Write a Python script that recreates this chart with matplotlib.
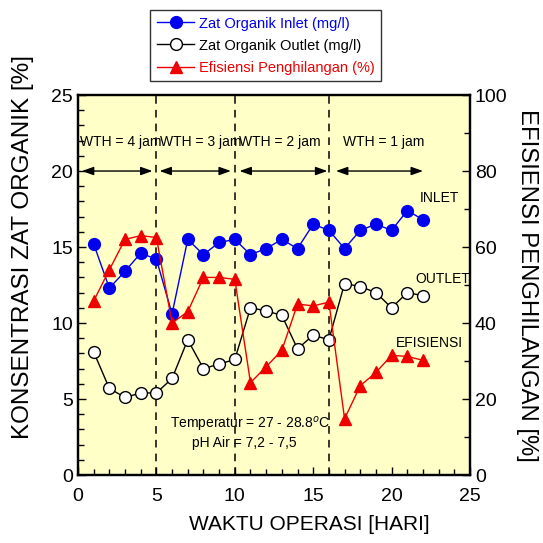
import matplotlib
matplotlib.use("Agg")
import matplotlib.pyplot as plt
from matplotlib.ticker import MultipleLocator

plt.rcParams["font.family"] = ["Liberation Sans", "DejaVu Sans"]

# data
hari = list(range(1, 23))
inlet = [15.2, 12.3, 13.4, 14.6, 14.2, 10.6, 15.5, 14.5, 15.3, 15.5, 14.5,
         14.9, 15.5, 14.9, 16.5, 16.1, 14.9, 16.1, 16.5, 16.1, 17.4, 16.8]
outlet = [8.1, 5.7, 5.1, 5.4, 5.4, 6.35, 8.9, 7.0, 7.3, 7.6, 11.0,
          10.8, 10.5, 8.3, 9.2, 8.9, 12.6, 12.4, 12.0, 11.0, 12.0, 11.8]
efisiensi = [45.8, 54.0, 62.0, 63.0, 62.5, 40.0, 43.0, 52.0, 52.0, 51.5, 24.3,
             28.5, 32.8, 45.0, 44.5, 45.5, 14.8, 23.5, 27.0, 31.5, 31.2, 30.2]

batas = [5, 10, 16]
wth_labels = ["WTH = 4 jam", "WTH = 3 jam", "WTH = 2 jam", "WTH = 1 jam"]
wth_text_x = [2.7, 7.8, 12.9, 19.5]
wth_arrows = [(0.25, 4.75), (5.2, 9.75), (10.3, 15.9), (16.45, 22.0)]

fig = plt.figure(figsize=(5.43, 5.43), dpi=100)
ax = fig.add_axes([0.1436, 0.1252, 0.722, 0.6998])
ax.set_facecolor("#ffffc8")
ax2 = ax.twinx()

l1, = ax.plot(hari, inlet, color="#0000ee", lw=1, marker="o", ms=8.5,
              mfc="#0000ee", mec="#0000ee", label="Zat Organik Inlet (mg/l)")
l2, = ax.plot(hari, outlet, color="black", lw=1, marker="o", ms=8.5,
              mfc="white", mec="black", label="Zat Organik Outlet (mg/l)")
l3, = ax2.plot(hari, efisiensi, color="#ee0000", lw=1, marker="^", ms=8,
               mfc="#ee0000", mec="#ee0000", label="Efisiensi Penghilangan (%)")

for b in batas:
    ax.axvline(b, color="black", lw=1.1, ls=(0, (5, 4)), zorder=1)

for (x0, x1) in wth_arrows:
    ax.annotate("", xy=(x1, 20), xytext=(x0, 20),
                arrowprops=dict(arrowstyle="<|-|>,head_length=0.7,head_width=0.25",
                                color="black", lw=1, shrinkA=0, shrinkB=0))
for lbl, tx in zip(wth_labels, wth_text_x):
    ax.text(tx, 21.9, lbl, ha="center", va="center", fontsize=10)

ax.text(21.8, 18.2, "INLET", fontsize=10, va="center")
ax.text(21.5, 12.9, "OUTLET", fontsize=10, va="center")
ax.text(20.3, 8.7, "EFISIENSI", fontsize=10, va="center")
ax.text(5.9, 3.3, "Temperatur = 27 - 28.8$^o$C", fontsize=10, va="center")
ax.text(7.3, 2.1, "pH Air = 7,2 - 7,5", fontsize=10, va="center")

ax.set_xlim(0, 25)
ax.set_ylim(0, 25)
ax2.set_ylim(0, 100)
ax.xaxis.set_major_locator(MultipleLocator(5))
ax.xaxis.set_minor_locator(MultipleLocator(1))
ax.yaxis.set_major_locator(MultipleLocator(5))
ax.yaxis.set_minor_locator(MultipleLocator(1))
ax2.yaxis.set_major_locator(MultipleLocator(20))
ax2.yaxis.set_minor_locator(MultipleLocator(10))

ax.tick_params(which="both", direction="in", labelsize=14, right=False, top=False)
ax.tick_params(which="major", length=6, width=1)
ax.tick_params(which="minor", length=4, width=1)
ax.tick_params(axis="x", pad=9)
ax2.tick_params(which="both", direction="in", labelsize=14)
ax2.tick_params(which="major", length=6, width=1)
ax2.tick_params(which="minor", length=4, width=1)

for a in (ax, ax2):
    for s in a.spines.values():
        s.set_linewidth(1.6)

ax.set_xlabel("WAKTU OPERASI [HARI]", fontsize=15)
ax.xaxis.set_label_coords(0.59, -0.105)
ax.set_ylabel("KONSENTRASI ZAT ORGANIK [%]", fontsize=17.5, va="center")
ax.yaxis.set_label_coords(-0.14, 0.6)
ax2.set_ylabel("EFISIENSI PENGHILANGAN [%]", fontsize=17.2, rotation=-90,
               va="center")
ax2.yaxis.set_label_coords(1.145, 0.5)

leg = fig.legend(handles=[l1, l2, l3], loc="upper left",
                 bbox_to_anchor=(150 / 543, 1 - 10 / 543), borderaxespad=0,
                 fontsize=10.5, frameon=True, fancybox=False, edgecolor="black",
                 handlelength=2.6, borderpad=0.45, labelspacing=0.55,
                 handletextpad=0.3)
leg.get_frame().set_linewidth(1)
for txt, c in zip(leg.get_texts(), ["#0000ee", "black", "#ee0000"]):
    txt.set_color(c)

fig.savefig("out.png", dpi=100)
